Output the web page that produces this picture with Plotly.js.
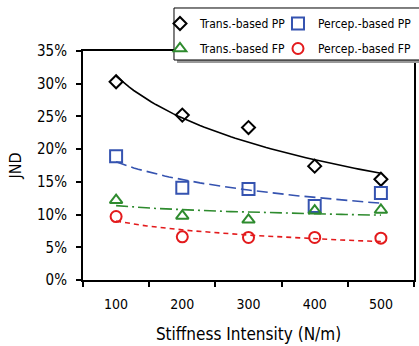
<!DOCTYPE html>
<html>
<head>
<meta charset="utf-8">
<script src="https://cdn.plot.ly/plotly-3.0.1.min.js"></script>
<style>html,body{margin:0;padding:0;background:#fff;}#chart{width:419px;height:346px;}</style>
</head>
<body>
<div id="chart"></div>
<script>
// Data
const stiffness = [100, 200, 300, 400, 500];
const transPP = [30.3, 25.2, 23.3, 17.4, 15.4];
const percepPP = [18.9, 14.1, 13.9, 11.3, 13.3];
const transFP = [12.2, 9.8, 9.2, 10.6, 10.7];
const percepFP = [9.7, 6.6, 6.5, 6.5, 6.4];
const seriesNames = ['Trans.-based PP', 'Percep.-based PP', 'Trans.-based FP', 'Percep.-based FP'];

// Logarithmic trendline (least squares on ln x), as the original chart's trendlines
function logFit(xs, ys) {
  const lx = xs.map(Math.log);
  const n = xs.length;
  const mx = lx.reduce((a, b) => a + b, 0) / n;
  const my = ys.reduce((a, b) => a + b, 0) / n;
  let sxy = 0, sxx = 0;
  for (let i = 0; i < n; i++) { sxy += (lx[i] - mx) * (ys[i] - my); sxx += (lx[i] - mx) ** 2; }
  const a = sxy / sxx, b = my - a * mx;
  const fx = [], fy = [];
  const x0 = xs[0], x1 = xs[n - 1];
  for (let i = 0; i <= 60; i++) { const x = x0 + (x1 - x0) * i / 60; fx.push(x); fy.push(a * Math.log(x) + b); }
  return {x: fx, y: fy};
}

const colors = ['#000000', '#3553B0', '#2E8B2E', '#E31A1C'];
const symbols = ['diamond-open', 'square-open', 'triangle-up-open', 'circle-open'];
const sizes = [10, 12, 11, 11];
const dashes = ['solid', '11px,5px', '12px,4px,2px,4px', '5px,4px'];
const legendOf = ['legend', 'legend2', 'legend', 'legend2'];
const all = [transPP, percepPP, transFP, percepFP];

const traces = [];
all.forEach((ys, i) => {
  const f = logFit(stiffness, ys);
  traces.push({x: f.x, y: f.y, mode: 'lines', showlegend: false, hoverinfo: 'skip',
    line: {color: colors[i], width: 1.6, dash: dashes[i]}});
});
all.forEach((ys, i) => {
  traces.push({x: stiffness, y: ys, mode: 'markers', name: seriesNames[i],
    legend: legendOf[i], legendgroup: 'g' + i,
    marker: {symbol: symbols[i], size: sizes[i], color: colors[i], line: {width: 2, color: colors[i]}}});
});

const font = '"DejaVu Sans Condensed", "DejaVu Sans", Verdana, sans-serif';
const legendBase = {orientation: 'v', y: 1.1834, yanchor: 'top', xanchor: 'left',
  bgcolor: 'rgba(0,0,0,0)', borderwidth: 0, font: {family: font, size: 12, color: '#000'},
  tracegroupgap: 6, itemwidth: 30, itemsizing: 'trace'};
const layout = {
  width: 419, height: 346,
  margin: {l: 83, r: 5, t: 51, b: 66, autoexpand: false},
  paper_bgcolor: '#ffffff', plot_bgcolor: '#ffffff',
  font: {family: font, color: '#000', size: 14},
  showlegend: true,
  legend: Object.assign({}, legendBase, {x: 0.2326}),
  legend2: Object.assign({}, legendBase, {x: 0.5891}),
  shapes: [
    {type: 'rect', xref: 'paper', yref: 'paper', x0: 0.284, x1: 1.2, y0: 0.9476, y1: 1.1747,
      fillcolor: '#999999', line: {width: 0}, layer: 'above'},
    {type: 'rect', xref: 'paper', yref: 'paper', x0: 0.2749, x1: 1.2, y0: 0.9607, y1: 1.1878,
      fillcolor: '#ffffff', line: {color: '#000', width: 1}, layer: 'above'}
  ],
  xaxis: {range: [50, 550], tickvals: stiffness, ticktext: stiffness.map(String),
    ticks: '', ticklabelstandoff: 10, showgrid: false, zeroline: false, showline: true, linecolor: '#000', linewidth: 2, mirror: true,
    minor: {tick0: 50, dtick: 100, ticks: 'outside', ticklen: 5, tickwidth: 2, tickcolor: '#000', showgrid: false},
    tickfont: {size: 14}, title: {text: 'Stiffness Intensity (N/m)', font: {size: 17}, standoff: 17}},
  yaxis: {range: [0, 35], dtick: 5, tick0: 0, ticksuffix: '%', ticks: 'outside', ticklen: 5, tickwidth: 2, tickcolor: '#000',
    ticklabelstandoff: 6,
    showgrid: false, zeroline: false, showline: true, linecolor: '#000', linewidth: 2, mirror: true,
    tickfont: {size: 15}, title: {text: 'JND', font: {size: 16}, standoff: 11}}
};
Plotly.newPlot('chart', traces, layout, {displayModeBar: false, staticPlot: true});
</script>
</body>
</html>
